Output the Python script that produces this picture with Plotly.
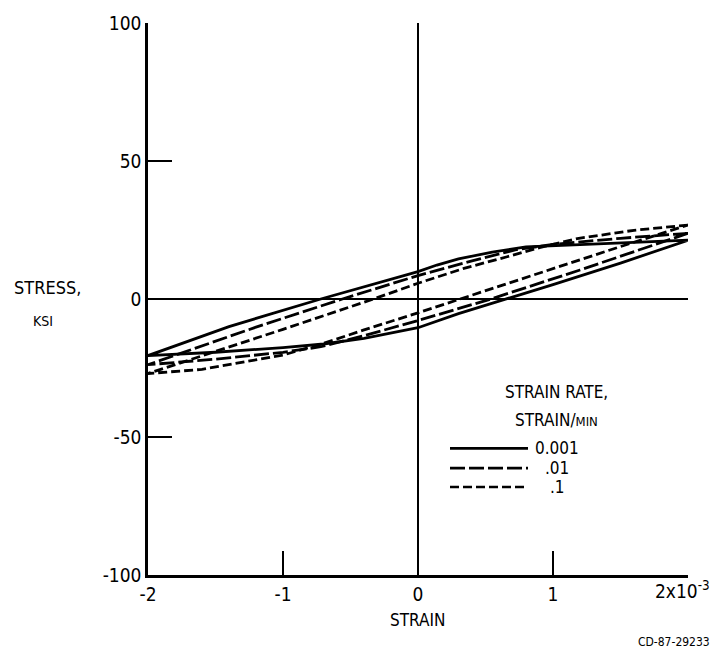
import plotly.graph_objects as go

# ---- data (strain in units of 1e-3, stress in ksi) ----
rate_labels = ["0.001", ".01", ".1"]

# 0.001 /min  (solid)
s1_x = [2.0, 1.5, 1.0, 0.8, 0.55, 0.3, 0.14, 0.0, -0.72, -1.4, -2.0,
        -1.5, -1.0, -0.7, -0.4, -0.15, 0.0, 0.3, 0.66, 1.0, 1.5, 2.0]
s1_y = [21.3, 20.3, 19.5, 18.9, 17.0, 14.5, 12.3, 9.9, 0.0, -10.0, -20.5,
        -19.3, -17.6, -16.3, -14.3, -12.0, -10.4, -5.3, 0.0, 5.2, 13.0, 21.3]

# 0.01 /min  (long dash)
s2_x = [2.0, 1.5, 1.0, 0.72, 0.4, 0.0, -0.56, -1.2, -2.0,
        -1.5, -1.0, -0.72, -0.4, 0.0, 0.54, 1.2, 2.0]
s2_y = [23.8, 22.0, 19.8, 17.8, 13.8, 8.5, 0.0, -10.2, -23.8,
        -21.8, -19.3, -17.3, -13.3, -7.8, 0.0, 10.5, 23.8]

# 0.1 /min  (short dash)
s3_x = [2.0, 1.6, 1.18, 0.9, 0.66, 0.34, 0.0, -0.33, -1.0, -1.5, -2.0,
        -1.6, -1.3, -1.0, -0.72, -0.4, 0.0, 0.31, 1.0, 1.5, 2.0]
s3_y = [26.8, 24.9, 21.9, 18.6, 15.3, 11.1, 5.7, 0.0, -11.0, -19.0, -27.0,
        -25.5, -23.0, -20.3, -16.4, -11.2, -5.0, 0.0, 11.2, 19.0, 26.8]

x_ticks = [-2, -1, 0, 1, 2]
x_ticktext = ["-2", "-1", "0", "1", ""]
y_ticks = [-100, -50, 0, 50, 100]
y_ticktext = ["-100", "-50", "0", "50", "100"]

FONT = "Liberation Sans Narrow, DejaVu Sans Condensed, DejaVu Sans, sans-serif"
dashes = ["solid", "15px,4px", "9px,4px"]

fig = go.Figure()
for xs, ys, d in [(s1_x, s1_y, dashes[0]), (s2_x, s2_y, dashes[1]), (s3_x, s3_y, dashes[2])]:
    fig.add_trace(go.Scatter(x=xs, y=ys, mode="lines",
                             line=dict(color="black", width=2.8, dash=d),
                             showlegend=False, hoverinfo="skip"))

W, H = 717, 655
L, R, T, B = 148, 29, 17, 80
pw, ph = W - L - R, H - T - B


def px(xp):
    return (xp - L) / pw


def py(yp):
    return (H - B - yp) / ph


def ann(text, x, y, size, xanchor="center"):
    return dict(text=text, x=px(x), y=py(y), xref="paper", yref="paper",
                xanchor=xanchor, yanchor="middle", showarrow=False,
                font=dict(size=size))


annotations = [
    ann("STRESS,", 47, 284, 18),
    ann("KSI", 43, 318, 14),
    ann("STRAIN", 417, 620, 17),
    ann("CD-87-29233", 712, 643, 12, "right"),
    ann("2x10<sup>-3</sup>", 712, 590, 19, "right"),
    ann("STRAIN RATE,", 556, 390, 17),
    ann('STRAIN/<span style="font-size:13px">MIN</span>', 556, 418, 17),
]
shapes = []
leg_y = [447, 467, 486]
for lbl, d, yy in zip(rate_labels, dashes, leg_y):
    shapes.append(dict(type="line", xref="paper", yref="paper",
                       x0=px(450), x1=px(528), y0=py(yy), y1=py(yy),
                       line=dict(color="black", width=2.6, dash=d)))
    annotations.append(ann(lbl, 557, yy, 17))

fig.update_layout(
    width=W, height=H, autosize=False,
    margin=dict(l=L, r=R, t=T, b=B, pad=0),
    paper_bgcolor="white", plot_bgcolor="white",
    font=dict(family=FONT, color="black", size=19),
    annotations=annotations, shapes=shapes,
    xaxis=dict(range=[-2, 2], tickvals=x_ticks, ticktext=x_ticktext,
               showline=True, linecolor="black", linewidth=2.5, mirror=False,
               ticks="inside", ticklen=24, tickwidth=2, tickcolor="black",
               showgrid=False, zeroline=True, zerolinecolor="black", zerolinewidth=2,
               tickfont=dict(size=19), fixedrange=True),
    yaxis=dict(range=[-100, 100], tickvals=y_ticks, ticktext=y_ticktext,
               showline=True, linecolor="black", linewidth=2.5, mirror=False,
               ticks="inside", ticklen=24, tickwidth=2, tickcolor="black",
               showgrid=False, zeroline=True, zerolinecolor="black", zerolinewidth=2,
               tickfont=dict(size=19), fixedrange=True),
)

fig.write_html("out.html", config={"displayModeBar": False},
               post_script="document.body.style.margin='0';document.body.style.overflow='hidden';")
